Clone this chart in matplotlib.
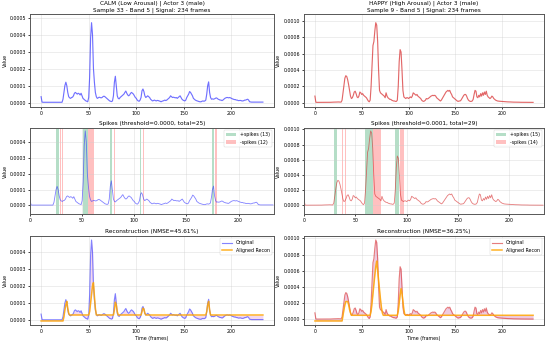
import numpy as np
import matplotlib
matplotlib.use("Agg")
import matplotlib.pyplot as plt
from matplotlib.ticker import FormatStrFormatter

SCALE = 1e-5

calm_signal = [
    3.5, 0.3, 0.2, 0.2, 0.2, 0.2, 0.2, 0.2, 0.2, 0.2, 0.2, 0.2, 0.2, 0.2, 0.2, 0.2, 0.2, 0.2, 0.2, 0.2,
    0.2, 0.2, 0.2, 2.0, 6.0, 10.0, 12.0, 10.0, 6.0, 3.5, 2.8, 2.5, 3.0, 3.2, 4.0, 5.5, 6.0, 5.5, 5.0, 5.5,
    5.2, 4.5, 5.5, 4.0, 2.5, 2.0, 1.5, 1.0, 0.8, 0.5, 3.0, 15.0, 38.0, 47.0, 40.0, 20.0, 12.0, 6.0, 3.5, 2.5,
    2.8, 3.2, 3.0, 2.8, 3.0, 3.5, 3.8, 3.5, 3.0, 2.5, 2.0, 1.5, 1.0, 0.8, 0.6, 1.0, 4.0, 12.0, 15.5, 10.0,
    4.0, 2.5, 2.2, 3.0, 3.5, 4.0, 4.5, 5.0, 6.0, 6.8, 5.5, 4.5, 4.0, 4.5, 5.5, 6.0, 5.5, 5.0, 4.0, 3.0,
    2.5, 1.5, 1.0, 0.8, 1.5, 3.0, 7.0, 8.0, 6.5, 4.0, 3.0, 3.5, 4.0, 3.5, 3.0, 2.0, 1.5, 1.0, 1.2, 1.5,
    1.2, 1.0, 1.3, 1.2, 1.0, 0.8, 0.5, 0.8, 1.0, 1.2, 1.5, 1.2, 1.5, 2.0, 2.5, 3.0, 4.0, 3.5, 3.0, 3.2,
    3.0, 2.8, 3.0, 2.5, 3.0, 3.5, 4.0, 3.0, 2.0, 1.5, 1.2, 1.0, 1.5, 3.0, 4.0, 5.0, 6.5, 6.0, 5.0, 4.0,
    2.5, 2.0, 1.5, 1.2, 1.0, 0.8, 0.6, 0.5, 0.5, 0.8, 1.0, 0.8, 1.0, 1.5, 5.0, 10.0, 12.2, 6.0, 3.0, 2.0,
    2.2, 2.0, 2.2, 2.5, 2.8, 2.5, 2.0, 1.8, 1.5, 1.5, 1.2, 1.5, 2.0, 2.5, 2.8, 3.0, 3.0, 2.8, 3.0, 2.8,
    2.5, 2.2, 2.0, 1.8, 1.8, 1.5, 1.5, 1.2, 1.2, 1.3, 1.2, 1.0, 1.0, 1.2, 1.5, 1.5, 1.8, 2.0, 1.5, 0.5,
    0.4, 0.3, 0.3, 0.3, 0.3, 0.3, 0.3, 0.3, 0.3, 0.3, 0.3, 0.3, 0.3, 0.3,
]

calm_recon = (
    [-0.5] * 24
    + [2.0, 6.0, 9.0, 11.0, 7.0, 4.0, 3.0]
    + [3.0] * 20
    + [5.0, 10.0, 15.0, 20.0, 22.0, 14.0, 7.0, 3.0]
    + [3.0] * 18
    + [6.0, 10.5, 9.0, 5.0, 3.0]
    + [3.0] * 24
    + [5.0, 7.0, 6.5, 4.0, 3.0]
    + [3.0] * 63
    + [5.0, 9.0, 11.0, 6.0, 3.0]
    + [3.0] * 55
)

happy_signal = [
    8.0, 0.5, 0.3, 0.3, 0.3, 0.3, 0.3, 0.3, 0.3, 0.3, 0.3, 0.3, 0.3, 0.3, 0.3, 0.3, 0.4, 0.4, 0.5, 0.5,
    0.6, 0.6, 0.7, 0.7, 0.8, 0.8, 0.7, 0.6, 0.6, 3.0, 12.0, 22.0, 30.0, 33.0, 32.0, 28.0, 22.0, 15.0, 8.0, 5.0,
    6.0, 9.0, 13.0, 14.0, 11.0, 7.0, 6.0, 8.0, 13.0, 12.0, 10.0, 11.0, 9.0, 8.0, 7.0, 6.0, 4.0, 2.0, 1.0, 3.0,
    20.0, 45.0, 70.0, 75.0, 88.0, 98.0, 95.0, 75.0, 40.0, 15.0, 12.0, 11.0, 10.0, 9.0, 8.0, 6.0, 12.0, 8.0, 6.0, 5.0,
    4.0, 4.0, 3.0, 2.5, 2.0, 2.0, 1.5, 1.5, 3.0, 20.0, 50.0, 65.0, 62.0, 40.0, 15.0, 7.0, 6.0, 5.0, 6.0, 6.0,
    5.0, 6.0, 7.0, 6.0, 8.0, 12.0, 11.0, 10.0, 9.0, 10.0, 8.0, 7.0, 6.0, 5.0, 3.0, 2.0, 1.5, 2.0, 3.0, 5.0,
    4.5, 5.0, 6.0, 7.0, 8.0, 8.5, 9.0, 8.5, 9.0, 8.0, 6.0, 5.0, 4.0, 3.0, 2.0, 3.0, 5.0, 7.0, 9.0, 11.0,
    13.0, 14.0, 15.0, 14.0, 15.0, 12.0, 10.0, 7.0, 6.0, 5.0, 4.0, 3.0, 2.0, 1.5, 2.0, 2.0, 3.0, 5.0, 7.0, 9.0,
    10.0, 10.0, 8.0, 5.0, 3.0, 2.0, 1.5, 1.5, 2.0, 4.0, 10.0, 15.0, 14.0, 7.0, 6.0, 9.0, 7.0, 11.0, 8.0, 12.0,
    9.0, 13.0, 10.0, 14.0, 9.0, 7.0, 6.0, 5.0, 6.0, 8.0, 7.0, 5.0, 4.0, 3.0, 2.5, 2.0, 1.8, 1.7, 1.6, 1.5,
    1.4, 1.3, 1.2, 1.1, 1.0, 1.0, 0.9, 0.9, 0.8, 0.8, 0.7, 0.7, 0.6, 0.6, 0.6, 0.5, 0.5, 0.5, 0.5, 0.4,
    0.4, 0.4, 0.4, 0.4, 0.3, 0.3, 0.3, 0.3, 0.3, 0.3, 0.3, 0.3, 0.3, 0.3,
]

happy_recon = (
    [-2.0] * 30
    + [5.0, 12.0, 18.0, 22.0, 22.0, 22.0, 18.0, 12.0, 8.0, 5.0]
    + [5.0] * 20
    + [10.0, 20.0, 32.0, 45.0, 55.0, 65.0, 72.0, 60.0, 48.0, 36.0, 25.0, 15.0, 8.0, 5.0]
    + [5.0] * 15
    + [10.0, 20.0, 30.0, 38.0, 32.0, 22.0, 12.0, 6.0, 5.0]
    + [5.0] * 136
)

calm_pos_spikes = [25, 26, 27, 51, 52, 53, 54, 55, 77, 78, 106, 175, 176]
calm_neg_spikes = [29, 31, 56, 57, 58, 59, 60, 61, 81, 109, 178, 179]
happy_pos_spikes = [30, 31, 32, 60, 61, 62, 63, 64, 65, 66, 67, 89, 90, 91, 92]
happy_neg_spikes = [38, 40, 68, 69, 70, 71, 72, 73, 74, 75, 94, 95, 96, 97]

panels = [
    dict(title="CALM (Low Arousal) | Actor 3 (male)\nSample 33 - Band 5 | Signal: 234 frames",
         signal=calm_signal, recon=calm_recon, pos=calm_pos_spikes, neg=calm_neg_spikes,
         threshold="0.0000", nmse="45.61%", color="#3333ff", fill="#d97fc8"),
    dict(title="HAPPY (High Arousal) | Actor 3 (male)\nSample 9 - Band 5 | Signal: 234 frames",
         signal=happy_signal, recon=happy_recon, pos=happy_pos_spikes, neg=happy_neg_spikes,
         threshold="0.0001", nmse="36.25%", color="#d62728", fill="#c8509e"),
]

fig = plt.figure(figsize=(16, 10.01), dpi=34.375)

col_x = [(30, 274), (304, 544)]
row_y = [(14, 107), (128, 214), (236, 325)]
W, H = 550.0, 344.0

TITLE_FS = 12
TICK_FS = 10
LABEL_FS = 10
LEG_FS = 10


def make_ax(r, c):
    x0, x1 = col_x[c]
    y0, y1 = row_y[r]
    return fig.add_axes([x0 / W, 1 - y1 / H, (x1 - x0) / W, (y1 - y0) / H])


def style(ax):
    ax.grid(True, color="#cccccc", alpha=0.6, linewidth=1.2)
    for s in ax.spines.values():
        s.set_color("#555555")
        s.set_linewidth(2)
    ax.tick_params(labelsize=TICK_FS, length=5, width=1.5)
    ax.yaxis.set_major_formatter(FormatStrFormatter("%.4f"))
    ax.set_ylabel("Value", fontsize=LABEL_FS)


for c, p in enumerate(panels):
    sig = np.array(p["signal"]) * SCALE
    rec = np.array(p["recon"]) * SCALE
    t = np.arange(len(sig))
    m = sig.max()

    ax = make_ax(0, c)
    ax.plot(t, sig, color=p["color"], linewidth=2.4, alpha=0.7)
    ax.set_ylim(-0.054 * m, 1.11 * m)
    ax.set_title(p["title"], fontsize=TITLE_FS)
    style(ax)

    ax = make_ax(1, c)
    ax.plot(t, sig, color=p["color"], linewidth=1.8, alpha=0.6)
    for k, s in enumerate(p["pos"]):
        ax.axvspan(s - 0.5, s + 0.5, color="#2ca25f", alpha=0.35, linewidth=0,
                   label=f"+spikes ({len(p['pos'])})" if k == 0 else None)
    for k, s in enumerate(p["neg"]):
        ax.axvspan(s - 0.5, s + 0.5, color="#ff4d4d", alpha=0.35, linewidth=0,
                   label=f"-spikes ({len(p['neg'])})" if k == 0 else None)
    ax.set_xlim(0, len(sig))
    ax.set_ylim(-0.115 * m, 1.04 * m)
    ax.set_title(f"Spikes (threshold={p['threshold']}, total={len(p['pos']) + len(p['neg'])})", fontsize=TITLE_FS)
    ax.legend(loc="upper right", fontsize=LEG_FS, framealpha=0.8)
    style(ax)

    ax = make_ax(2, c)
    ax.plot(t, sig, color=p["color"], linewidth=2.4, alpha=0.6, label="Original")
    ax.plot(t, rec, color="orange", linewidth=3.2, alpha=0.85, label="Aligned Recon")
    ax.fill_between(t, sig, rec, color=p["fill"], alpha=0.3, linewidth=0)
    ax.set_title(f"Reconstruction (NMSE={p['nmse']})", fontsize=TITLE_FS)
    ax.set_xlabel("Time (frames)", fontsize=LABEL_FS)
    ax.legend(loc="upper right", fontsize=LEG_FS, framealpha=0.8)
    style(ax)

fig.savefig("out.png", dpi=34.375)
